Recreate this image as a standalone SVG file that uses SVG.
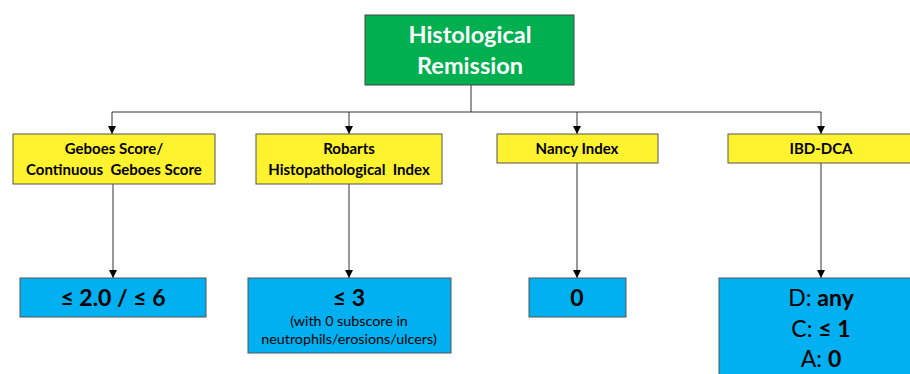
<svg xmlns="http://www.w3.org/2000/svg" width="910" height="374" viewBox="0 0 910 374">
<defs>
<marker id="ah" viewBox="0 0 10 10" refX="10" refY="5" markerWidth="8" markerHeight="8" markerUnits="userSpaceOnUse" orient="auto">
<path d="M0,0 L10,5 L0,10 z" fill="#000"/>
</marker>
<style>
.conn{stroke:#333;stroke-width:1;fill:none}
.arr{marker-end:url(#ah)}
.green{fill:#00B050;stroke:#444;stroke-width:1}
.yellow{fill:#FFF22E;stroke:#555;stroke-width:1}
.blue{fill:#00B0F0;stroke:#555;stroke-width:1}
text{font-family:Lato,"Open Sans","Liberation Sans",sans-serif;text-anchor:middle}
.t1{fill:#fff;font-weight:bold;font-size:23.5px}
.ty{fill:#000;font-weight:bold;font-size:15px;white-space:pre}
.tb{fill:#000;font-weight:bold;font-size:23px}
.ts{fill:#000;font-size:14.3px}
.tr{fill:#000;font-size:23px}
</style>
</defs>
<g id="connectors">
<path class="conn" d="M471,85 V112"/>
<path class="conn" d="M112,112 H821"/>
<path class="conn arr" d="M112,112 V134"/>
<path class="conn arr" d="M349,112 V134"/>
<path class="conn arr" d="M577,112 V134"/>
<path class="conn arr" d="M821,112 V134"/>
<path class="conn arr" d="M113,184 V278"/>
<path class="conn arr" d="M349,184 V278"/>
<path class="conn arr" d="M577,163 V278"/>
<path class="conn arr" d="M821,163 V278"/>
</g>
<g id="root">
<rect class="green" x="365" y="15" width="209" height="70"/>
<text class="t1" x="470" y="43">Histological</text>
<text class="t1" x="470" y="74">Remission</text>
</g>
<g id="geboes">
<rect class="yellow" x="13" y="134" width="202" height="50"/>
<text class="ty" x="114" y="154">Geboes Score/</text>
<text class="ty" x="114" y="175">Continuous  Geboes Score</text>
</g>
<g id="robarts">
<rect class="yellow" x="256" y="134" width="186" height="50"/>
<text class="ty" x="349" y="154">Robarts</text>
<text class="ty" x="349" y="175">Histopathological  Index</text>
</g>
<g id="nancy">
<rect class="yellow" x="497" y="134" width="161" height="29"/>
<text class="ty" x="577" y="154">Nancy Index</text>
</g>
<g id="ibddca">
<rect class="yellow" x="728" y="134" width="190" height="29"/>
<text class="ty" x="821" y="154">IBD-DCA</text>
</g>
<g id="geboes-val">
<rect class="blue" x="20" y="278" width="186" height="39"/>
<text class="tb" x="113" y="306">≤ 2.0 / ≤ 6</text>
</g>
<g id="robarts-val">
<rect class="blue" x="248" y="278" width="203" height="75"/>
<text class="tb" x="349" y="306">≤ 3</text>
<text class="ts" x="349" y="326">(with 0 subscore in</text>
<text class="ts" x="349" y="344">neutrophils/erosions/ulcers)</text>
</g>
<g id="nancy-val">
<rect class="blue" x="529" y="278" width="97" height="39"/>
<text class="tb" x="577" y="306">0</text>
</g>
<g id="ibddca-val">
<rect class="blue" x="719" y="278" width="200" height="110"/>
<text class="tr" x="821" y="306">D: <tspan font-weight="bold">any</tspan></text>
<text class="tr" x="821" y="337">C: <tspan font-weight="bold">≤ 1</tspan></text>
<text class="tr" x="821" y="367">A: <tspan font-weight="bold">0</tspan></text>
</g>
</svg>
